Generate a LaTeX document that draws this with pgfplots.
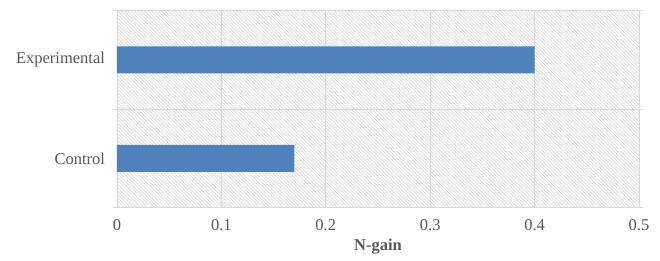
\documentclass[border=0pt]{standalone}
\usepackage{fontspec}
\setmainfont{Liberation Serif}
\usepackage{pgfplots}
\pgfplotsset{compat=1.18}
\usetikzlibrary{patterns.meta}
\definecolor{barblue}{HTML}{4F81BD}
\definecolor{gridgray}{HTML}{D9D9D9}
\definecolor{axgray}{HTML}{BFBFBF}
\definecolor{txtgray}{HTML}{595959}
\begin{document}
\begin{tikzpicture}
\begin{axis}[
  at={(0,0)}, anchor=south west,
  scale only axis, width=522pt, height=197pt,
  xbar, bar width=27pt,
  xmin=0, xmax=0.5, ymin=-0.5, ymax=1.5,
  xtick={0,0.1,0.2,0.3,0.4,0.5},
  xticklabels={0,0.1,0.2,0.3,0.4,0.5},
  ytick={0,1}, yticklabels={Control,Experimental},
  minor ytick={-0.5,0.5,1.5},
  xmajorgrids, yminorgrids,
  major grid style={gridgray, line width=0.8pt},
  minor grid style={gridgray, line width=0.8pt},
  axis line style={gridgray, line width=0.8pt},
  major tick length=0pt, minor tick length=4pt,
  tick align=outside,
  minor tick style={gridgray, line width=0.8pt},
  axis background/.style={pattern={Lines[angle=-45,distance=2.4pt,line width=0.5pt]}, pattern color=gray!35},
  ticklabel style={font=\fontsize{16.5}{18}\selectfont, text=txtgray},
  xticklabel style={yshift=-8.5pt},
  yticklabel style={xshift=-8.5pt},
  xlabel={N-gain},
  xlabel style={font=\fontsize{16.5}{18}\selectfont\bfseries, text=txtgray, yshift=-1pt},
]
\addplot[fill=barblue, draw=none] coordinates {(0.17,0) (0.40,1)};
\end{axis}
\pgfresetboundingbox
\useasboundingbox (-117pt,-52.3pt) rectangle (543pt,207.7pt);
\end{tikzpicture}
\end{document}
